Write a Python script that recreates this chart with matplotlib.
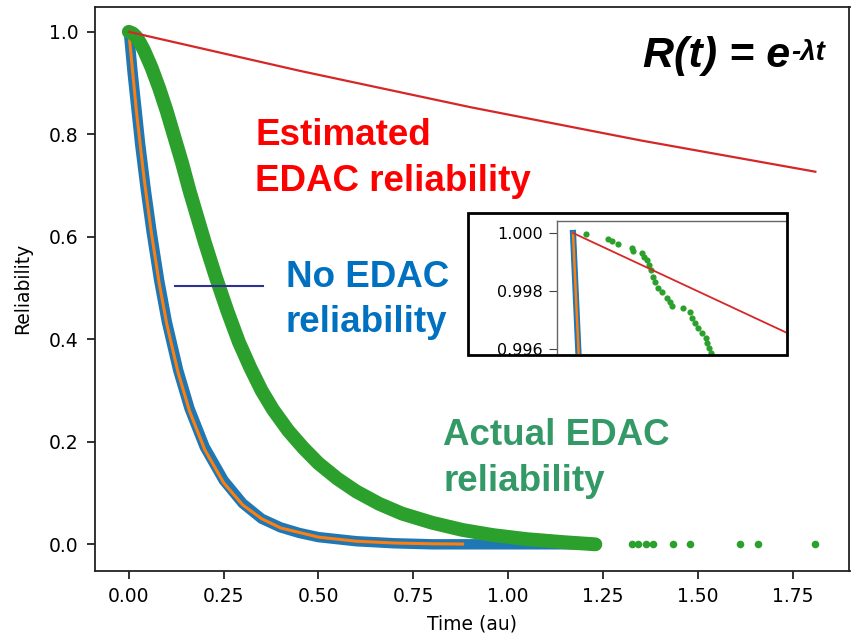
# Reliability curves: no EDAC vs actual EDAC vs estimated EDAC
import matplotlib
matplotlib.use("Agg")
import matplotlib.pyplot as plt
from matplotlib.patches import Rectangle
from matplotlib.lines import Line2D

# data (time in au, reliability)
blue_t = [0.0, 0.01, 0.02, 0.03, 0.045, 0.06, 0.08, 0.10, 0.13, 0.16, 0.20, 0.25,
          0.30, 0.35, 0.40, 0.45, 0.50, 0.60, 0.70, 0.80, 0.90, 1.00, 1.10, 1.23]
blue_r = [1.0, 0.92, 0.85, 0.78, 0.69, 0.61, 0.515, 0.435, 0.34, 0.265, 0.19, 0.125,
          0.08, 0.05, 0.033, 0.022, 0.014, 0.006, 0.002, 0.0, 0.0, 0.0, 0.0, 0.0]

fit_t = [0.0, 0.02, 0.04, 0.06, 0.08, 0.10, 0.13, 0.16, 0.20, 0.25, 0.30, 0.35,
         0.40, 0.50, 0.60, 0.70, 0.80, 0.88]
fit_r = [1.0, 0.845, 0.715, 0.605, 0.51, 0.43, 0.335, 0.26, 0.185, 0.12, 0.077, 0.05,
         0.032, 0.014, 0.006, 0.0025, 0.001, 0.0005]

green_t = [0.0, 0.01, 0.02, 0.03, 0.04, 0.06, 0.08, 0.10, 0.12, 0.14, 0.16, 0.18,
           0.20, 0.23, 0.26, 0.29, 0.32, 0.35, 0.38, 0.42, 0.46, 0.50, 0.55, 0.60,
           0.66, 0.72, 0.80, 0.88, 0.96, 1.05, 1.15, 1.23]
green_r = [1.0, 0.997, 0.99, 0.978, 0.964, 0.93, 0.89, 0.845, 0.795, 0.745, 0.69, 0.64,
           0.59, 0.52, 0.455, 0.395, 0.345, 0.30, 0.263, 0.222, 0.188, 0.158, 0.128,
           0.103, 0.079, 0.060, 0.042, 0.028, 0.018, 0.010, 0.004, 0.0]

tail_t = [1.326, 1.343, 1.364, 1.383, 1.434, 1.480, 1.611, 1.659, 1.808]
tail_r = [0.0, 0.0, 0.0, 0.0, 0.0, 0.0, 0.0, 0.0, 0.0]

red_t = [0.0, 0.45, 0.90, 1.35, 1.81]
red_r = [1.0, 0.924, 0.853, 0.788, 0.727]

# zoomed-in actual EDAC points for the inset
zoom_t = [0.00124, 0.00331, 0.00369, 0.00432, 0.00559, 0.00575, 0.00654, 0.00680,
          0.00708, 0.00724, 0.00740, 0.00759, 0.00781, 0.00813, 0.00851, 0.00893,
          0.00924, 0.00946, 0.01045, 0.01115, 0.01137, 0.01162, 0.01194, 0.01226,
          0.01267, 0.01280, 0.01299, 0.01315]
zoom_r = [0.99995, 0.99979, 0.99972, 0.99961, 0.99947, 0.99938, 0.99930, 0.99918,
          0.99907, 0.99890, 0.99872, 0.99849, 0.99830, 0.99811, 0.99795, 0.99775,
          0.99761, 0.99748, 0.99740, 0.99729, 0.99706, 0.99689, 0.99671, 0.99654,
          0.99637, 0.99620, 0.99602, 0.99585]

x_ticks = [0.0, 0.25, 0.5, 0.75, 1.0, 1.25, 1.5, 1.75]
y_ticks = [0.0, 0.2, 0.4, 0.6, 0.8, 1.0]
inset_ticks = [0.996, 0.998, 1.000]

W, H = 851, 635
arial = ["Liberation Sans", "DejaVu Sans"]

fig = plt.figure(figsize=(W / 100, H / 100), dpi=100)

def px(x, y):
    # pixel position -> figure fraction
    return x / W, 1 - y / H

# main axes
l, t, r, b = 94.5, 6.7, 849.5, 570.7
ax = fig.add_axes([l / W, 1 - b / H, (r - l) / W, (b - t) / H])

ax.plot(blue_t, blue_r, color="#1f77b4", lw=7.5, solid_capstyle="round",
        solid_joinstyle="round")
ax.plot(fit_t, fit_r, color="#ff7f0e", lw=2.2)
ax.plot(green_t, green_r, color="#2ca02c", lw=10, solid_capstyle="round",
        solid_joinstyle="round")
ax.scatter(tail_t, tail_r, color="#2ca02c", s=30, linewidths=0)
ax.plot(red_t, red_r, color="#d62728", lw=1.6)

ax.set_xlim(-0.0905, 1.9)
ax.set_ylim(-0.0515, 1.049)
ax.set_xticks(x_ticks)
ax.set_xticklabels(["%.2f" % v for v in x_ticks])
ax.set_yticks(y_ticks)
ax.set_yticklabels(["%.1f" % v for v in y_ticks])
ax.tick_params(labelsize=13.5, length=5.5, width=1.3, pad=6, color="#222222")
for s in ax.spines.values():
    s.set_linewidth(1.3)
    s.set_color("#222222")
ax.set_xlabel("Time (au)", fontsize=13.5)
ax.set_ylabel("Reliability", fontsize=13.5)
ax.xaxis.set_label_coords(0.5, -0.077)
ax.yaxis.set_label_coords(-0.082, 0.5)

# annotation texts
def label(x, y, s, color, size=26.5, **kw):
    return fig.text(*px(x, y), s, color=color, fontsize=size, fontweight="bold",
                    family=arial, va="baseline", ha="left", **kw)

label(255, 145, "Estimated", "#ff0000")
label(255, 191, "EDAC reliability", "#ff0000")
label(286, 287, "No EDAC", "#0070c0")
label(286, 332, "reliability", "#0070c0")
label(443, 445, "Actual EDAC", "#339966")
label(443, 491, "reliability", "#339966")

eq = label(643, 67, "R(t) = e", "black", size=31, fontstyle="italic")
ax.annotate("-\u03bbt", xy=(1, 1), xycoords=eq, xytext=(0.5, -3),
            textcoords="offset points", fontsize=20, fontweight="bold",
            fontstyle="italic", family=arial, va="top", ha="left",
            annotation_clip=False)

fig.lines.append(Line2D([175 / W, 263 / W], [1 - 285.7 / H, 1 - 285.7 / H],
                        color="#2e3192", lw=1.5, transform=fig.transFigure))

# inset box
bx0, by0, bx1, by1 = 468, 213, 787, 355
box_bg = Rectangle(px(bx0, by1), (bx1 - bx0) / W, (by1 - by0) / H,
                   transform=fig.transFigure, facecolor="white", edgecolor="none",
                   zorder=5)
fig.patches.append(box_bg)
box_edge = Rectangle(px(bx0, by1), (bx1 - bx0) / W, (by1 - by0) / H,
                     transform=fig.transFigure, facecolor="none", edgecolor="black",
                     lw=2.0, zorder=20)
fig.patches.append(box_edge)

il, it, ir, ib = 557, 221, 786, 353.5
axi = fig.add_axes([il / W, 1 - ib / H, (ir - il) / W, (ib - it) / H])
axi.set_zorder(10)
axi.patch.set_alpha(0)
axi.plot(blue_t, blue_r, color="#1f77b4", lw=4.5)
axi.plot(fit_t, fit_r, color="#ff7f0e", lw=1.8)
axi.scatter(zoom_t, zoom_r, color="#2ca02c", s=20, linewidths=0)
axi.plot(red_t, red_r, color="#d62728", lw=1.3)
axi.set_xlim(-0.001525, 0.0203)
axi.set_ylim(0.995845, 1.000414)
axi.set_xticks([])
axi.set_yticks(inset_ticks)
axi.set_yticklabels(["%.3f" % v for v in inset_ticks])
axi.tick_params(labelsize=11.5, length=6, pad=4, color="#444444")
axi.spines["right"].set_visible(False)
axi.spines["bottom"].set_visible(False)
for k in ["left", "top"]:
    axi.spines[k].set_color("#666666")
    axi.spines[k].set_linewidth(1.0)
for lab in axi.get_yticklabels():
    lab.set_clip_path(box_edge)
    lab.set_clip_on(True)

fig.savefig("out.png", dpi=100)
